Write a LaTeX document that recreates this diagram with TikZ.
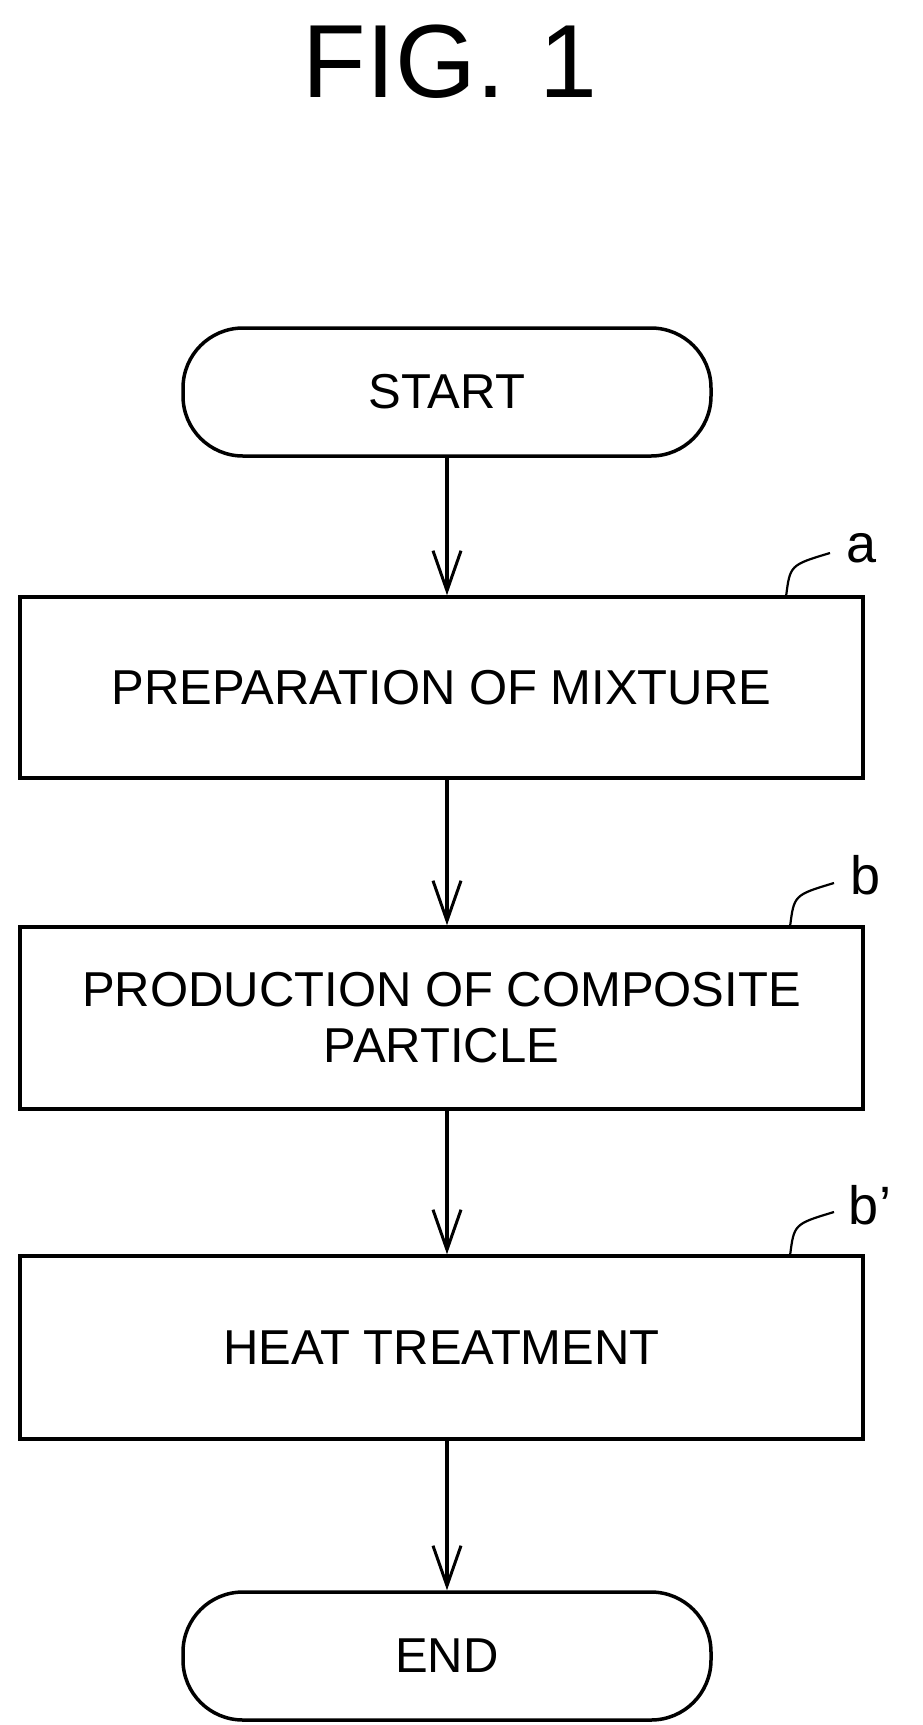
\documentclass[tikz,border=0pt]{standalone}
\usepackage{fontspec}
\setmainfont{Liberation Sans}
\usetikzlibrary{arrows.meta}
\begin{document}
\begin{tikzpicture}[x=1pt,y=-1pt,line width=3.5pt,
  txt/.style={font=\fontsize{49}{56}\selectfont},
  box/.style={draw,txt,align=center,inner sep=0},
  arr/.style={-{Straight Barb[length=40pt,width=28pt,line width=3pt]}},
  lbl/.style={font=\fontsize{54}{60}\selectfont,inner sep=0}]
\useasboundingbox (0,0) rectangle (923,1725);
\node[font=\fontsize{104}{110}\selectfont] (title) at (450,62) {FIG.\,\,1};
\node[box,rounded corners=60pt,minimum width=528pt,minimum height=128pt] (start) at (447,392) {START};
\node[box,minimum width=843pt,minimum height=181pt] (a) at (441.5,687.5) {PREPARATION OF MIXTURE};
\node[box,minimum width=843pt,minimum height=182pt] (b) at (441.5,1018) {PRODUCTION OF COMPOSITE\\PARTICLE};
\node[box,minimum width=843pt,minimum height=183pt] (bp) at (441.5,1347.5) {HEAT TREATMENT};
\node[box,rounded corners=60pt,minimum width=528pt,minimum height=128pt] (end) at (447,1656) {END};
\draw[arr] (start.south) -- (start.south|-a.north);
\draw[arr] (start.south|-a.south) -- (start.south|-b.north);
\draw[arr] (start.south|-b.south) -- (start.south|-bp.north);
\draw[arr] (start.south|-bp.south) -- (end.north);
\node[lbl] (la) at (862,548) {a};
\node[lbl] (lb) at (866,875) {b};
\node[lbl] (lbp) at (870,1205) {b’};
\coordinate (ca) at (786,597);
\coordinate (cb) at (790,927);
\coordinate (cbp) at (790,1256);
\draw[line width=2.2pt] (ca) .. controls (790,565) .. (830,553);
\draw[line width=2.2pt] (cb) .. controls (794,895) .. (834,883);
\draw[line width=2.2pt] (cbp) .. controls (794,1224) .. (834,1212);
\end{tikzpicture}
\end{document}
